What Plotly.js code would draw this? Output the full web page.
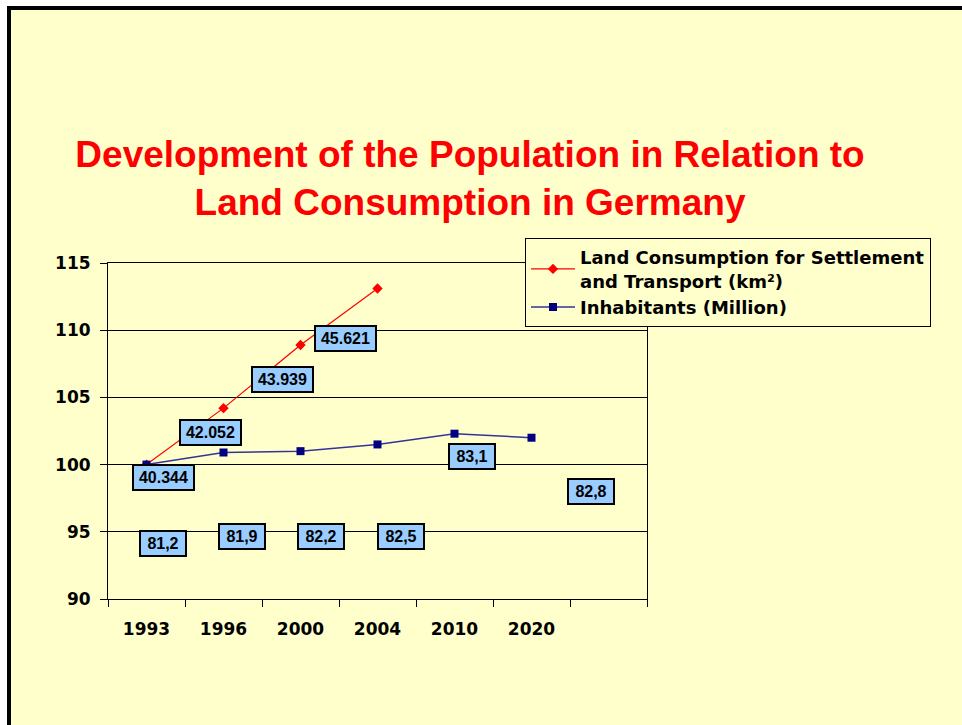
<!DOCTYPE html>
<html>
<head>
<meta charset="utf-8">
<script src="https://cdn.plot.ly/plotly-3.0.1.min.js"></script>
<style>
  html, body { margin: 0; padding: 0; background: #ffffff; }
  #bg { position: absolute; left: 7px; top: 6px; width: 955px; height: 719px;
        background: #FFFFCC; border-left: 4px solid #000; border-top: 4px solid #000; box-sizing: border-box; }
  #chart { position: absolute; left: 0; top: 0; width: 962px; height: 725px; }
</style>
</head>
<body>
<div id="bg"></div>
<div id="chart"></div>
<script>
// ---- data ----
const categories = ['1993', '1996', '2000', '2004', '2010', '2020'];
const emptySlot = ' ';
const landIndex = [100, 104.2, 108.9, 113.1];          // index, 1993 = 100
const popIndex = [100, 100.9, 101.0, 101.5, 102.3, 102.0];
const landLabels = ['40.344', '42.052', '43.939', '45.621'];
const popLabels = ['81,2', '81,9', '82,2', '82,5', '83,1', '82,8'];
const landName = 'Land Consumption for Settlement<br>and Transport (km²)';
const popName = 'Inhabitants (Million)';
const titleText = 'Development of the Population in Relation to<br>Land Consumption in Germany';

// ---- label placement (pixel offsets from the point) ----
const landOffsets = [[17, -13], [-13, -24], [-18, -35], [-32, -50]];
const popOffsets = [[16, -79], [18, -84], [20, -85], [23, -92], [17, -23], [59, -54]];

const traces = [
  {
    x: categories.slice(0, landIndex.length), y: landIndex, name: landName,
    type: 'scatter', mode: 'lines+markers',
    line: { color: '#FF0000', width: 1.2 },
    marker: { symbol: 'diamond', size: 8, color: '#FF0000' },
    hoverinfo: 'skip'
  },
  {
    x: categories, y: popIndex, name: popName,
    type: 'scatter', mode: 'lines+markers',
    line: { color: '#333399', width: 1.5 },
    marker: { symbol: 'square', size: 8, color: '#000080' },
    hoverinfo: 'skip'
  }
];

function makeLabel(idx, val, txt, off) {
  return {
    xref: 'x', yref: 'y', x: idx, y: val, text: txt, showarrow: false,
    xshift: off[0], yshift: off[1],
    font: { family: 'Liberation Sans, Arial, sans-serif', size: 16, color: '#000', weight: 'bold' },
    bgcolor: '#99CCFF', bordercolor: '#000', borderwidth: 2, borderpad: 2,
    width: txt.length > 5 ? 55 : 40, height: 19, align: 'center', valign: 'middle'
  };
}
const annotations = [];
landLabels.forEach((t, i) => annotations.push(makeLabel(i, landIndex[i], t, landOffsets[i])));
popLabels.forEach((t, i) => annotations.push(makeLabel(i, popIndex[i], t, popOffsets[i])));

const tickFont = { family: 'DejaVu Sans, Verdana, sans-serif', size: 17, color: '#000', weight: 'bold' };

const layout = {
  width: 962, height: 725,
  paper_bgcolor: 'rgba(0,0,0,0)', plot_bgcolor: 'rgba(0,0,0,0)',
  margin: { l: 108, r: 315, t: 263, b: 126, pad: 0 },
  title: {
    text: '<b>' + titleText + '</b>',
    xref: 'container', yref: 'container', x: 0.4886, y: 1 - 167 / 725,
    xanchor: 'center', yanchor: 'middle',
    font: { family: 'Liberation Sans, Arial, sans-serif', size: 37, color: '#FF0000' }
  },
  xaxis: {
    type: 'category', categoryorder: 'array', categoryarray: categories.concat([emptySlot]),
    range: [-0.5, categories.length + 0.5],
    showline: true, linecolor: '#000', linewidth: 1, mirror: true,
    ticks: 'outside', tickson: 'boundaries', ticklen: 7, tickcolor: '#000', tickwidth: 1,
    showgrid: false, zeroline: false, tickfont: tickFont, ticklabelstandoff: 15,
    fixedrange: true
  },
  yaxis: {
    range: [90, 115], dtick: 5, tick0: 90,
    showline: true, linecolor: '#000', linewidth: 1, mirror: true,
    ticks: 'outside', ticklen: 7, tickcolor: '#000', tickwidth: 1,
    showgrid: true, gridcolor: '#000', gridwidth: 1, zeroline: false,
    tickfont: tickFont, ticklabelstandoff: 6, fixedrange: true
  },
  legend: {
    x: (525 - 108) / 539, y: (599 - 238) / 336, xanchor: 'left', yanchor: 'top',
    bgcolor: '#FFFFCC', bordercolor: '#000', borderwidth: 1,
    font: { family: 'DejaVu Sans, Verdana, sans-serif', size: 18, color: '#000', weight: 'bold' },
    itemwidth: 44, tracegroupgap: 0
  },
  showlegend: true,
  annotations: annotations
};

Plotly.newPlot('chart', traces, layout, { displayModeBar: false, staticPlot: true });
</script>
</body>
</html>
